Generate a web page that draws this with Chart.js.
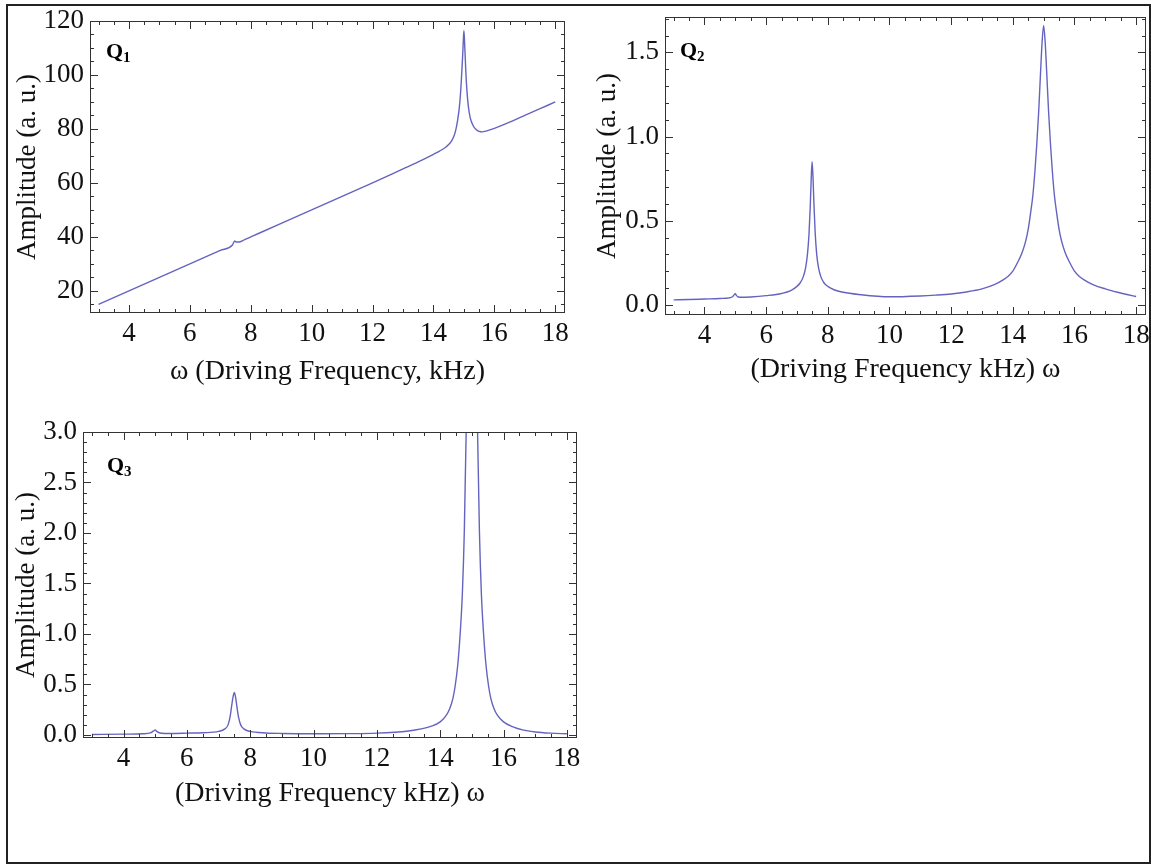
<!DOCTYPE html>
<html>
<head>
<meta charset="utf-8">
<script src="https://cdn.jsdelivr.net/npm/chart.js@4.4.1/dist/chart.umd.min.js"></script>
<style>
  html, body { margin: 0; padding: 0; background: #fff; overflow: hidden; }
  #frame { position: absolute; left: 6px; top: 4px; width: 1141px; height: 856px; border: 2px solid #222; }
  .panel { position: absolute; }
</style>
</head>
<body>
<div id="frame"></div>
<div class="panel" id="p1"><canvas id="c1"></canvas></div>
<div class="panel" id="p2"><canvas id="c2"></canvas></div>
<div class="panel" id="p3"><canvas id="c3"></canvas></div>
<script>
// tick labels
const xTicks = [4, 6, 8, 10, 12, 14, 16, 18];
const yTicks1 = [20, 40, 60, 80, 100, 120];
const yTicks2 = [0, 0.5, 1, 1.5];
const yTicks3 = [0, 0.5, 1, 1.5, 2, 2.5, 3];

// Q1
const freq1 = [3, 4, 5, 6, 7, 7.4, 7.47, 7.52, 7.6, 7.8, 8, 9, 10, 11, 12, 13, 13.5, 14, 14.2, 14.4, 14.5,
  14.58, 14.66, 14.73, 14.79, 14.85, 14.9, 14.94, 14.97, 15.0, 15.03, 15.06, 15.1, 15.15, 15.21, 15.3, 15.4,
  15.5, 15.6, 15.75, 16, 16.5, 17, 17.5, 18];
const amp1 = [15, 20, 25, 30, 35, 37, 38.5, 38.1, 38.1, 39, 40, 45, 50, 55, 60, 65.2, 67.8, 70.6, 71.8, 73.2, 74.2,
  75.3, 77, 79.5, 83, 88, 95, 103, 110, 116.5, 110, 102, 94, 88, 84, 81.3, 79.8,
  79.1, 78.9, 79.3, 80.2, 82.5, 85, 87.5, 90];

// Q2
const freq2 = [3, 3.5, 4, 4.5, 4.8, 4.92, 4.97, 5.0, 5.04, 5.1, 5.2, 5.5, 6, 6.5, 6.8, 7.0, 7.1, 7.2, 7.28,
  7.34, 7.39, 7.43, 7.46, 7.49, 7.52, 7.55, 7.59, 7.64, 7.7, 7.78, 7.88, 8.0, 8.2, 8.5, 9, 10, 11, 11.5, 12,
  12.5, 13.0, 13.4, 13.7, 13.85, 14.0, 14.15, 14.3, 14.42, 14.5, 14.58, 14.65, 14.72, 14.78, 14.84, 14.9,
  14.95, 15.0, 15.05, 15.1, 15.16, 15.22, 15.28, 15.35, 15.42, 15.5, 15.58, 15.7, 15.85, 16.0, 16.15, 16.3,
  16.6, 17.0, 17.4, 17.7, 18];
const amp2 = [0.03, 0.032, 0.035, 0.038, 0.042, 0.05, 0.062, 0.066, 0.055, 0.047, 0.045, 0.047, 0.055, 0.068,
  0.085, 0.11, 0.13, 0.165, 0.22, 0.3, 0.42, 0.58, 0.74, 0.85, 0.76, 0.6, 0.43, 0.3, 0.22, 0.165, 0.13, 0.11,
  0.09, 0.075, 0.062, 0.048, 0.053, 0.058, 0.065, 0.077, 0.095, 0.12, 0.15, 0.17, 0.2, 0.25, 0.31, 0.38,
  0.45, 0.55, 0.65, 0.8, 0.96, 1.15, 1.38, 1.56, 1.66, 1.56, 1.38, 1.15, 0.96, 0.8, 0.65, 0.55, 0.45, 0.38,
  0.31, 0.25, 0.2, 0.17, 0.15, 0.12, 0.095, 0.075, 0.062, 0.05];

// Q3
const freq3 = [3, 4, 4.6, 4.85, 4.95, 5.0, 5.05, 5.15, 5.5, 6, 6.5, 7.0, 7.2, 7.3, 7.37, 7.42, 7.46, 7.5, 7.54,
  7.58, 7.63, 7.7, 7.8, 8.0, 8.5, 9, 10, 11, 12, 13, 13.4, 13.7, 14, 14.2, 14.3, 14.4, 14.47, 14.55, 14.63,
  14.7, 14.76, 14.82, 14.9, 15.0, 15.1, 15.18, 15.24, 15.3, 15.37, 15.45, 15.53, 15.6, 15.7, 15.8, 16, 16.3,
  16.6, 17, 17.5, 18];
const amp3 = [0.005, 0.008, 0.012, 0.02, 0.04, 0.05, 0.035, 0.02, 0.015, 0.018, 0.022, 0.035, 0.06, 0.1, 0.19,
  0.3, 0.38, 0.42, 0.37, 0.28, 0.18, 0.1, 0.06, 0.035, 0.02, 0.015, 0.012, 0.013, 0.018, 0.04, 0.06, 0.085,
  0.13, 0.2, 0.26, 0.36, 0.48, 0.68, 1.0, 1.4, 2.0, 3.0, 5.5, 9.0, 5.5, 3.0, 2.0, 1.4, 1.0, 0.68, 0.48, 0.36,
  0.26, 0.2, 0.13, 0.08, 0.05, 0.03, 0.018, 0.012];

const SERIF = '"Liberation Serif", "DejaVu Serif", serif';
const LINE = 'rgb(100, 100, 192)';

// box frame with inward ticks on all four sides + Q label
const frameTicks = {
  id: 'frameTicks',
  afterDraw(chart, args, opts) {
    const { ctx, chartArea: a, scales: { x, y } } = chart;
    ctx.save();
    ctx.strokeStyle = '#333';
    ctx.lineWidth = 1;
    ctx.strokeRect(a.left + 0.5, a.top + 0.5, a.right - a.left - 1, a.bottom - a.top - 1);

    const mark = (scale, v, len) => {
      const p = Math.round(scale.getPixelForValue(v)) + 0.5;
      ctx.beginPath();
      if (scale.isHorizontal()) {
        ctx.moveTo(p, a.bottom); ctx.lineTo(p, a.bottom - len);
        ctx.moveTo(p, a.top); ctx.lineTo(p, a.top + len);
      } else {
        ctx.moveTo(a.left, p); ctx.lineTo(a.left + len, p);
        ctx.moveTo(a.right, p); ctx.lineTo(a.right - len, p);
      }
      ctx.stroke();
    };
    const minor = (scale, step) => {
      const i0 = Math.ceil(scale.min / step - 1e-6), i1 = Math.floor(scale.max / step + 1e-6);
      for (let i = i0; i <= i1; i++) mark(scale, i * step, 4);
    };
    minor(x, opts.xMinor);
    minor(y, opts.yMinor);
    x.ticks.forEach(t => mark(x, t.value, 8));
    y.ticks.forEach(t => mark(y, t.value, 8));

    ctx.fillStyle = '#000';
    ctx.textBaseline = 'alphabetic';
    ctx.font = 'bold 22px ' + SERIF;
    ctx.fillText('Q', a.left + opts.qx, a.top + opts.qy);
    const w = ctx.measureText('Q').width;
    ctx.font = 'bold 15px ' + SERIF;
    ctx.fillText(opts.sub, a.left + opts.qx + w, a.top + opts.qy + 4);
    ctx.restore();
  }
};

function makeChart(id, box, freq, amp, o) {
  const Y_W = 80, X_H = 75, PAD_T = 12;
  const w = (box.r - box.l) + Y_W + o.padR;
  const h = (box.b - box.t) + PAD_T + X_H;
  const div = document.getElementById('p' + id);
  div.style.left = (box.l - Y_W) + 'px';
  div.style.top = (box.t - PAD_T) + 'px';
  const canvas = document.getElementById('c' + id);
  canvas.width = w; canvas.height = h;
  canvas.style.width = w + 'px'; canvas.style.height = h + 'px';

  new Chart(canvas, {
    type: 'scatter',
    data: {
      datasets: [{
        data: freq.map((f, i) => ({ x: f, y: amp[i] })),
        showLine: true,
        borderColor: LINE,
        borderWidth: 1.4,
        pointRadius: 0,
        cubicInterpolationMode: 'monotone'
      }]
    },
    options: {
      responsive: false,
      animation: false,
      events: [],
      layout: { padding: { top: PAD_T, right: o.padR, left: 0, bottom: 0 } },
      plugins: {
        legend: { display: false },
        tooltip: { enabled: false },
        frameTicks: { xMinor: 0.5, yMinor: o.yMinor, qx: o.qx, qy: o.qy, sub: o.sub }
      },
      scales: {
        x: {
          type: 'linear', min: 2.72, max: 18.32,
          afterBuildTicks: s => { s.ticks = xTicks.map(v => ({ value: v })); },
          afterFit: s => { s.height = X_H; s.paddingLeft = 0; s.paddingRight = 0; },
          grid: { display: false, drawTicks: false },
          border: { display: false },
          ticks: { padding: 5, color: '#111', font: { family: SERIF, size: 27 }, maxRotation: 0 },
          title: { display: true, text: o.xTitle, color: '#111', font: { family: SERIF, size: 28 },
                   padding: { top: 0, bottom: o.xtPad } }
        },
        y: {
          type: 'linear', min: o.yMin, max: o.yMax,
          afterBuildTicks: s => { s.ticks = o.yTicks.map(v => ({ value: v })); },
          afterFit: s => { s.width = Y_W; s.paddingTop = 0; s.paddingBottom = 0; },
          grid: { display: false, drawTicks: false },
          border: { display: false },
          ticks: { padding: 6, color: '#111', font: { family: SERIF, size: 27 },
                   callback: v => o.dec ? v.toFixed(o.dec) : String(v) },
          title: { display: true, text: 'Amplitude (a. u.)', color: '#111', font: { family: SERIF, size: 27 },
                   padding: { top: o.ytPad, bottom: 0 } }
        }
      }
    },
    plugins: [frameTicks]
  });
}

makeChart(1, { l: 90, t: 21, r: 565, b: 313 }, freq1, amp1, {
  padR: 12, yMin: 11.8, yMax: 120, yTicks: yTicks1, yMinor: 5, dec: 0,
  xTitle: 'ω (Driving Frequency, kHz)', xtPad: 0, ytPad: 2, qx: 16, qy: 37, sub: '1'
});
makeChart(2, { l: 665, t: 17, r: 1146, b: 315 }, freq2, amp2, {
  padR: 4, yMin: -0.06, yMax: 1.71, yTicks: yTicks2, yMinor: 0.1, dec: 1,
  xTitle: '(Driving Frequency kHz) ω', xtPad: 4, ytPad: 7, qx: 15, qy: 40, sub: '2'
});
makeChart(3, { l: 83, t: 432, r: 577, b: 738 }, freq3, amp3, {
  padR: 12, yMin: -0.03, yMax: 3.0, yTicks: yTicks3, yMinor: 0.1, dec: 1,
  xTitle: '(Driving Frequency kHz) ω', xtPad: 3, ytPad: 8, qx: 24, qy: 40, sub: '3'
});
</script>
</body>
</html>
